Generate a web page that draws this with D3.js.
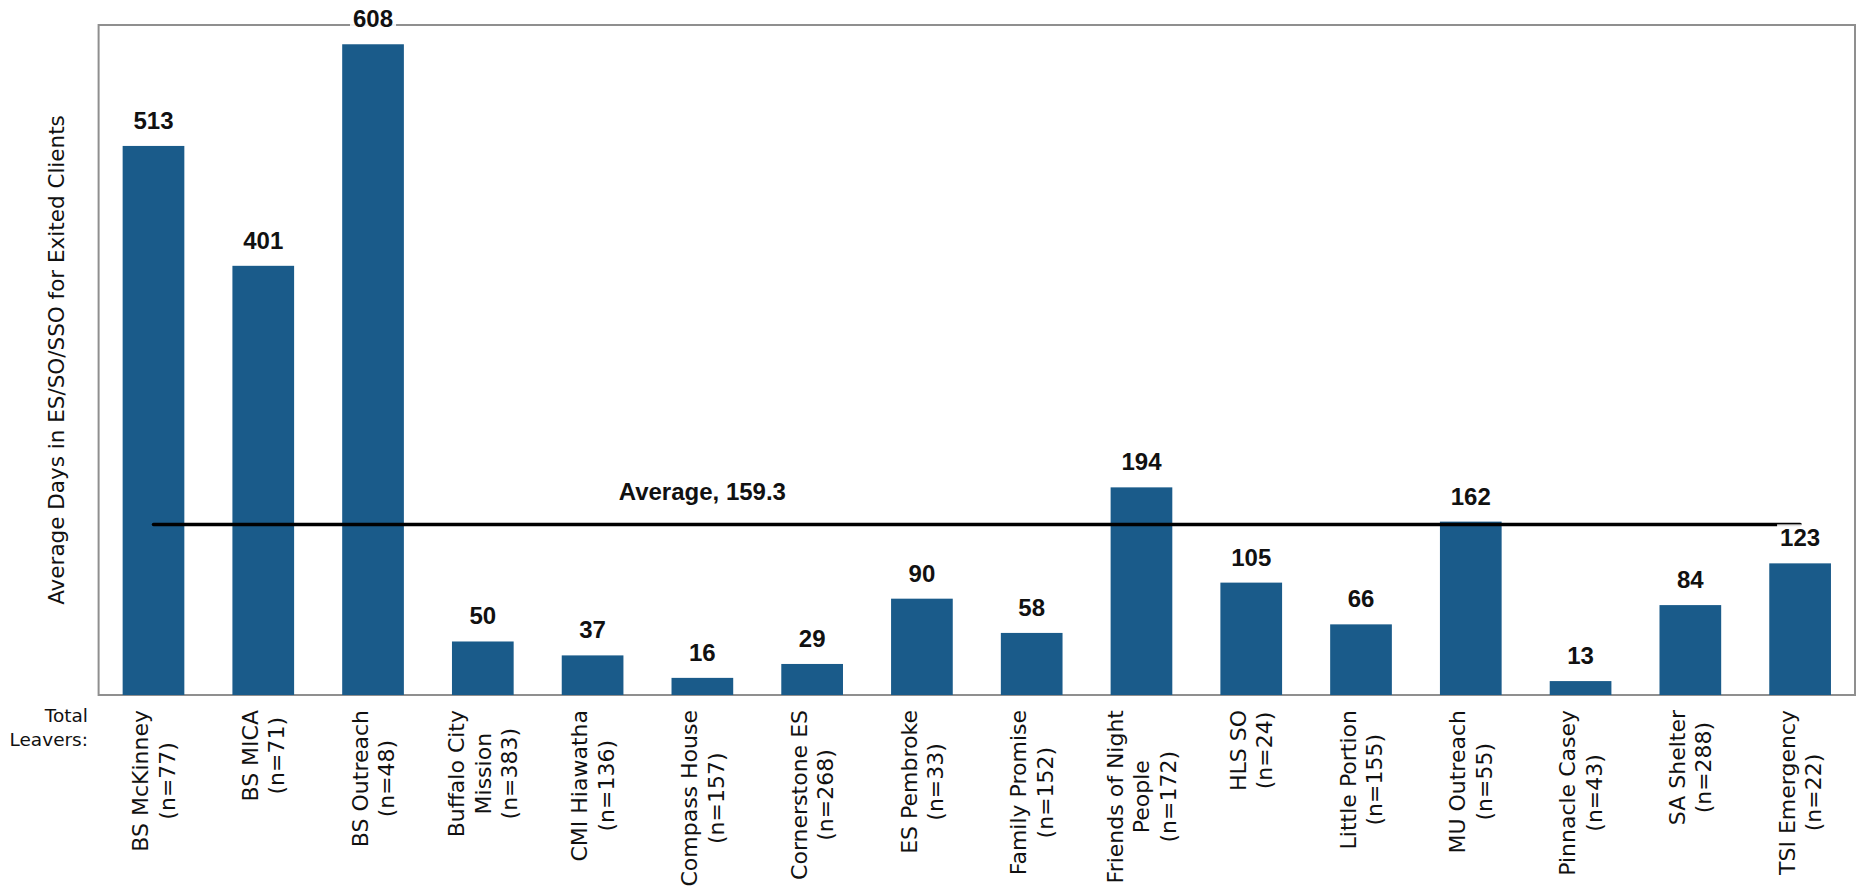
<!DOCTYPE html>
<html>
<head>
<meta charset="utf-8">
<script src="https://cdn.jsdelivr.net/npm/d3@7"></script>
<style>
  html, body { margin: 0; padding: 0; background: #fff; }
  svg { display: block; font-family: "DejaVu Sans", sans-serif; }
</style>
</head>
<body>
<svg id="chart" width="1862" height="886"></svg>
<script>
const categories = ["BS McKinney","BS MICA","BS Outreach","Buffalo City Mission","CMI Hiawatha","Compass House","Cornerstone ES","ES Pembroke","Family Promise","Friends of Night People","HLS SO","Little Portion","MU Outreach","Pinnacle Casey","SA Shelter","TSI Emergency"];
const leavers = [77,71,48,383,136,157,268,33,152,172,24,155,55,43,288,22];
const avgDays = [513,401,608,50,37,16,29,90,58,194,105,66,162,13,84,123];
const overallAverage = 159.3;
const averageLabel = "Average, 159.3";
const yTitle = "Average Days in ES/SO/SSO for Exited Clients";
const rowTitle = ["Total", "Leavers:"];

const W = 1862, H = 886;
const margin = {left: 98.6, right: 7, top: 25, bottom: 191};
const svg = d3.select("#chart");
const boldFont = "'Liberation Sans', Arial, sans-serif";

const x = d3.scaleBand().domain(categories)
  .range([margin.left, W - margin.right])
  .paddingInner(0.438).paddingOuter(0.219);
const y = d3.scaleLinear().domain([0, 626]).range([H - margin.bottom, margin.top]);

const data = categories.map((c, i) => ({cat: c, n: leavers[i], v: avgDays[i]}));
const barColor = "#1a5b8a";

// frame
svg.append("rect")
  .attr("x", margin.left).attr("y", margin.top)
  .attr("width", W - margin.right - margin.left)
  .attr("height", H - margin.bottom - margin.top)
  .attr("fill", "none").attr("stroke", "#8f8f8f").attr("stroke-width", 2);

// bars
svg.append("g").selectAll("rect").data(data).join("rect")
  .attr("x", d => x(d.cat)).attr("width", x.bandwidth())
  .attr("y", d => y(d.v)).attr("height", d => y(0) - y(d.v))
  .attr("fill", barColor);

// average line
const firstC = x(categories[0]) + x.bandwidth() / 2;
const lastC = x(categories[categories.length - 1]) + x.bandwidth() / 2;
svg.append("line")
  .attr("x1", firstC).attr("x2", lastC)
  .attr("y1", y(overallAverage)).attr("y2", y(overallAverage))
  .attr("stroke", "#000").attr("stroke-width", 3.5).attr("stroke-linecap", "round");

svg.append("text")
  .attr("x", x(categories[5]) + x.bandwidth() / 2)
  .attr("y", y(overallAverage) - 25)
  .attr("text-anchor", "middle")
  .attr("font-family", boldFont)
  .attr("font-size", 24).attr("font-weight", "bold").attr("fill", "#111")
  .text(averageLabel);

// value labels with light background
const lbl = svg.append("g").selectAll("g").data(data).join("g");
lbl.append("text")
  .attr("x", d => x(d.cat) + x.bandwidth() / 2)
  .attr("y", d => y(d.v) - 17)
  .attr("text-anchor", "middle")
  .attr("font-family", boldFont)
  .attr("font-size", 24).attr("font-weight", "bold").attr("fill", "#111")
  .text(d => d.v);
lbl.each(function() {
  const g = d3.select(this);
  const bb = g.select("text").node().getBBox();
  g.insert("rect", "text")
    .attr("x", bb.x - 3).attr("y", bb.y)
    .attr("width", bb.width + 6).attr("height", bb.height)
    .attr("fill", "#fff").attr("fill-opacity", 0.88);
});

// y-axis title
svg.append("text")
  .attr("transform", `translate(56,${(margin.top + H - margin.bottom) / 2}) rotate(-90)`)
  .attr("text-anchor", "middle").attr("dominant-baseline", "central")
  .attr("font-size", 21.5).attr("fill", "#111")
  .text(yTitle);

// category labels (rotated, wrapped, centered lines, block top-aligned)
function wrap(name, maxChars) {
  const words = name.split(" ");
  const lines = [];
  let cur = "";
  words.forEach(w => {
    const t = cur ? cur + " " + w : w;
    if (t.length > maxChars && cur) { lines.push(cur); cur = w; }
    else cur = t;
  });
  if (cur) lines.push(cur);
  return lines;
}
const lineH = 26.5;
const labelTop = H - margin.bottom + 15;
const catG = svg.append("g").selectAll("g").data(data).join("g");
catG.each(function(d) {
  const g = d3.select(this);
  const lines = wrap(d.cat, 16).concat([`(n=${d.n})`]);
  const t = g.append("text")
    .attr("text-anchor", "middle").attr("font-size", 22).attr("fill", "#111");
  lines.forEach((ln, i) => {
    t.append("tspan").attr("x", 0)
      .attr("y", (i - (lines.length - 1) / 2) * lineH)
      .attr("dy", "0.36em")
      .text(ln);
  });
  let maxLen = 0;
  t.selectAll("tspan").each(function() { maxLen = Math.max(maxLen, this.getComputedTextLength()); });
  g.attr("transform", `translate(${x(d.cat) + x.bandwidth() / 2},${labelTop + maxLen / 2}) rotate(-90)`);
});

// row title
const rt = svg.append("text").attr("text-anchor", "end").attr("font-size", 18.5).attr("fill", "#111");
rowTitle.forEach((s, i) => {
  rt.append("tspan").attr("x", 88).attr("y", 722 + i * 23.5).text(s);
});
</script>
</body>
</html>
